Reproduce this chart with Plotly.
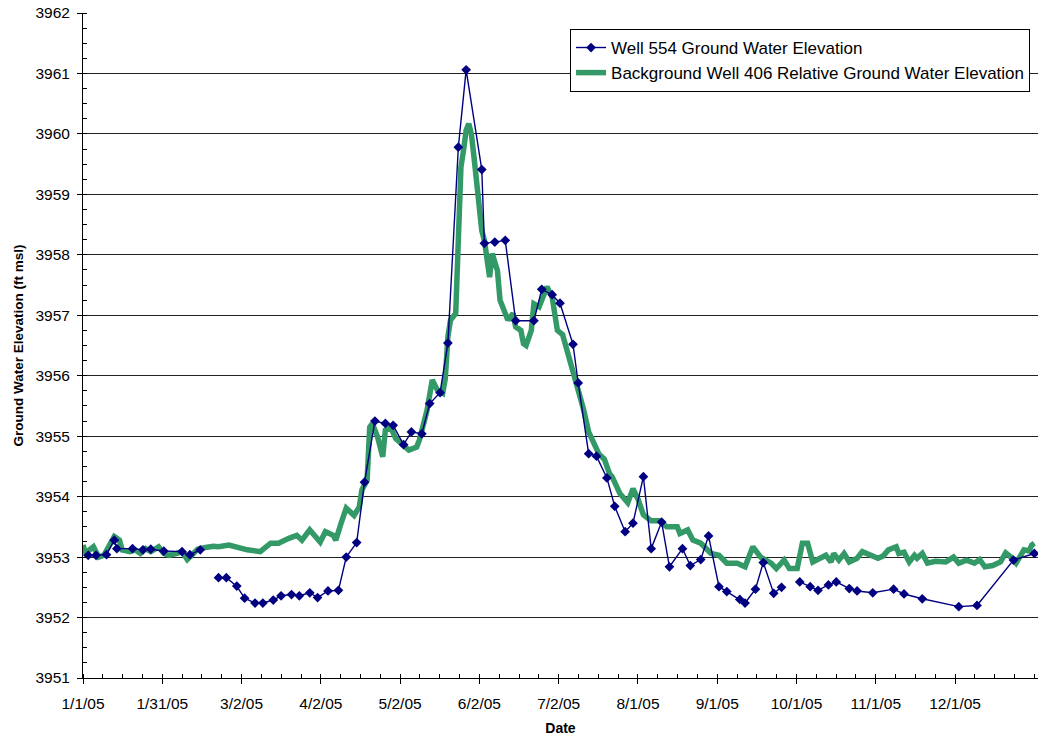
import plotly.graph_objects as go
import pandas as pd

# ---------------- data ----------------
well554_dates = [
    "2005-01-03", "2005-01-06", "2005-01-10", "2005-01-13", "2005-01-14", "2005-01-20",
    "2005-01-24", "2005-01-27", "2005-02-01", "2005-02-08", "2005-02-11", "2005-02-15",
    "2005-02-18",
    "2005-02-22", "2005-02-25", "2005-03-01", "2005-03-04", "2005-03-08", "2005-03-11",
    "2005-03-15", "2005-03-18", "2005-03-22", "2005-03-25", "2005-03-29", "2005-04-01",
    "2005-04-05", "2005-04-09", "2005-04-12", "2005-04-16", "2005-04-19", "2005-04-23",
    "2005-04-27", "2005-04-30", "2005-05-04", "2005-05-07", "2005-05-11", "2005-05-14",
    "2005-05-18", "2005-05-21", "2005-05-25", "2005-05-28", "2005-06-03", "2005-06-04",
    "2005-06-08", "2005-06-12", "2005-06-16", "2005-06-23", "2005-06-26", "2005-06-30",
    "2005-07-03", "2005-07-08", "2005-07-10", "2005-07-14", "2005-07-17", "2005-07-21",
    "2005-07-24", "2005-07-28", "2005-07-31", "2005-08-04", "2005-08-07", "2005-08-11",
    "2005-08-14", "2005-08-19", "2005-08-22", "2005-08-26", "2005-08-29", "2005-09-02",
    "2005-09-05", "2005-09-10", "2005-09-12", "2005-09-16", "2005-09-19", "2005-09-23",
    "2005-09-26",
    "2005-09-30",
    "2005-10-03", "2005-10-07", "2005-10-10", "2005-10-14", "2005-10-17", "2005-10-22",
    "2005-10-25", "2005-10-31", "2005-11-08", "2005-11-12", "2005-11-19", "2005-12-03",
    "2005-12-10", "2005-12-24", "2006-01-01",
]
well554_elev = [
    3953.03, 3953.03, 3953.04, 3953.28, 3953.14, 3953.14,
    3953.12, 3953.13, 3953.10, 3953.09, 3953.04, 3953.12,
    None,
    3952.66, 3952.66, 3952.52, 3952.32, 3952.24, 3952.24,
    3952.29, 3952.36, 3952.38, 3952.36, 3952.41, 3952.33,
    3952.44, 3952.45, 3953.00, 3953.24, 3954.24, 3955.25,
    3955.21, 3955.18, 3954.86, 3955.07, 3955.04, 3955.54,
    3955.72, 3956.54, 3959.78, 3961.06, 3959.41, 3958.19,
    3958.21, 3958.24, 3956.91, 3956.91, 3957.43, 3957.34,
    3957.20, 3956.52, 3955.88, 3954.71, 3954.67, 3954.31,
    3953.84, 3953.42, 3953.56, 3954.33, 3953.14, 3953.58,
    3952.84, 3953.14, 3952.86, 3952.96, 3953.35, 3952.51,
    3952.43, 3952.30, 3952.24, 3952.47, 3952.91, 3952.40,
    3952.50,
    None,
    3952.59, 3952.51, 3952.45, 3952.54, 3952.59, 3952.48,
    3952.44, 3952.41, 3952.47, 3952.39, 3952.31, 3952.18,
    3952.20, 3952.95, 3953.06,
]

bg406_dates = [
    "2005-01-01", "2005-01-02", "2005-01-05", "2005-01-07", "2005-01-09", "2005-01-11",
    "2005-01-13", "2005-01-15", "2005-01-16", "2005-01-19", "2005-01-21", "2005-01-23",
    "2005-01-25", "2005-01-27", "2005-01-30", "2005-02-01", "2005-02-03", "2005-02-06",
    "2005-02-08", "2005-02-10", "2005-02-12", "2005-02-14", "2005-02-17", "2005-02-20",
    "2005-02-22", "2005-02-26", "2005-03-05", "2005-03-10", "2005-03-14", "2005-03-17",
    "2005-03-21", "2005-03-24", "2005-03-26", "2005-03-29", "2005-04-02", "2005-04-04",
    "2005-04-07", "2005-04-08", "2005-04-10", "2005-04-12", "2005-04-15", "2005-04-17",
    "2005-04-18", "2005-04-20", "2005-04-21", "2005-04-22", "2005-04-24", "2005-04-26",
    "2005-04-27", "2005-04-29", "2005-05-01", "2005-05-03", "2005-05-06", "2005-05-09",
    "2005-05-10", "2005-05-12", "2005-05-13", "2005-05-15", "2005-05-17", "2005-05-19",
    "2005-05-20", "2005-05-21", "2005-05-22", "2005-05-24", "2005-05-25", "2005-05-26",
    "2005-05-27", "2005-05-28", "2005-05-29", "2005-05-30", "2005-05-31", "2005-06-01",
    "2005-06-02", "2005-06-03", "2005-06-04", "2005-06-05", "2005-06-06", "2005-06-07",
    "2005-06-09", "2005-06-10", "2005-06-12", "2005-06-13", "2005-06-15", "2005-06-16",
    "2005-06-18", "2005-06-19", "2005-06-20", "2005-06-22", "2005-06-23", "2005-06-25",
    "2005-06-27", "2005-06-28", "2005-06-30", "2005-07-01", "2005-07-02", "2005-07-04",
    "2005-07-05", "2005-07-07", "2005-07-09", "2005-07-12", "2005-07-14", "2005-07-17",
    "2005-07-18", "2005-07-20", "2005-07-22", "2005-07-23", "2005-07-25", "2005-07-26",
    "2005-07-29", "2005-07-31", "2005-08-02", "2005-08-04", "2005-08-07", "2005-08-10",
    "2005-08-13", "2005-08-17", "2005-08-18", "2005-08-21", "2005-08-23", "2005-08-26",
    "2005-08-30", "2005-09-02", "2005-09-05", "2005-09-09", "2005-09-12", "2005-09-15",
    "2005-09-18", "2005-09-22", "2005-09-24", "2005-09-27", "2005-09-29", "2005-10-02",
    "2005-10-04", "2005-10-06", "2005-10-08", "2005-10-11", "2005-10-13", "2005-10-15",
    "2005-10-16", "2005-10-18", "2005-10-20", "2005-10-22", "2005-10-25", "2005-10-27",
    "2005-10-30", "2005-11-02", "2005-11-04", "2005-11-06", "2005-11-09", "2005-11-10",
    "2005-11-12", "2005-11-14", "2005-11-16", "2005-11-17", "2005-11-19", "2005-11-21",
    "2005-11-24", "2005-11-28", "2005-12-01", "2005-12-03", "2005-12-06", "2005-12-09",
    "2005-12-11", "2005-12-13", "2005-12-16", "2005-12-19", "2005-12-21", "2005-12-23",
    "2005-12-25", "2005-12-28", "2005-12-30", "2005-12-31", "2006-01-01",
]
bg406_elev = [
    3953.20, 3953.07, 3953.17, 3953.00, 3953.03, 3953.20,
    3953.34, 3953.28, 3953.12, 3953.09, 3953.12, 3953.06,
    3953.14, 3953.09, 3953.17, 3953.06, 3953.03, 3953.06,
    3953.09, 3952.96, 3953.06, 3953.13, 3953.16, 3953.18,
    3953.17, 3953.20, 3953.12, 3953.09, 3953.23, 3953.23,
    3953.31, 3953.36, 3953.28, 3953.45, 3953.25, 3953.42,
    3953.36, 3953.28, 3953.56, 3953.81, 3953.69, 3953.83,
    3954.11, 3954.27, 3955.15, 3955.21, 3954.99, 3954.66,
    3955.10, 3955.15, 3954.96, 3954.88, 3954.77, 3954.82,
    3954.93, 3955.26, 3955.43, 3955.93, 3955.76, 3955.71,
    3955.95, 3956.65, 3956.92, 3957.03, 3958.29, 3959.45,
    3959.73, 3960.06, 3960.17, 3960.00, 3959.62, 3959.18,
    3958.74, 3958.40, 3958.24, 3957.85, 3957.63, 3958.02,
    3957.74, 3957.25, 3957.03, 3956.92, 3957.03, 3956.81,
    3956.75, 3956.53, 3956.50, 3956.75, 3957.19, 3957.14,
    3957.36, 3957.47, 3957.30, 3956.97, 3956.75, 3956.68,
    3956.53, 3956.15, 3955.87, 3955.45, 3955.07, 3954.82,
    3954.70, 3954.62, 3954.38, 3954.33, 3954.11, 3954.05,
    3953.90, 3954.13, 3953.95, 3953.70, 3953.60, 3953.60,
    3953.50, 3953.50, 3953.39, 3953.45, 3953.28, 3953.23,
    3953.06, 3953.03, 3952.90, 3952.90, 3952.84, 3953.17,
    3953.00, 3952.90, 3952.81, 3952.95, 3952.81, 3952.81,
    3953.23, 3953.23, 3952.92, 3953.00, 3953.03, 3952.92,
    3953.06, 3952.95, 3953.06, 3952.92, 3952.98, 3953.09,
    3953.03, 3952.98, 3953.02, 3953.12, 3953.17, 3953.06,
    3953.08, 3952.92, 3953.03, 3952.98, 3953.06, 3952.90,
    3952.93, 3952.92, 3953.00, 3952.90, 3952.95, 3952.90,
    3952.96, 3952.84, 3952.86, 3952.92, 3953.07, 3953.00,
    3952.90, 3953.12, 3953.10, 3953.20, 3953.23,
]

x_tick_labels = ["1/1/05", "1/31/05", "3/2/05", "4/2/05", "5/2/05", "6/2/05",
                 "7/2/05", "8/1/05", "9/1/05", "10/1/05", "11/1/05", "12/1/05"]

well554_name = "Well 554 Ground Water Elevation"
bg406_name = "Background Well 406 Relative Ground Water Elevation"

# ---------------- axis helpers ----------------
start = pd.Timestamp("2005-01-01")
step = pd.Timedelta(days=365 / 12)
tickvals = [(start + i * step).strftime("%Y-%m-%d %H:%M:%S") for i in range(len(x_tick_labels))]
x_end = (start + pd.Timedelta(days=366.4)).strftime("%Y-%m-%d %H:%M:%S")
minor_dtick_ms = 365 / 48 * 86400000

fig = go.Figure()
fig.add_trace(go.Scatter(
    x=bg406_dates, y=bg406_elev, mode="lines", name=bg406_name,
    line=dict(color="#339966", width=5.5),
))
fig.add_trace(go.Scatter(
    x=well554_dates, y=well554_elev, mode="lines+markers", name=well554_name,
    line=dict(color="#000080", width=1.4),
    marker=dict(symbol="diamond", size=7.5, color="#000080"),
    connectgaps=False,
))

fig.update_layout(
    width=1038, height=738,
    margin=dict(l=83, r=0, t=12.5, b=60),
    paper_bgcolor="white", plot_bgcolor="white",
    font=dict(family="Arial, 'Liberation Sans', sans-serif", color="black"),
    showlegend=True,
    legend=dict(
        x=0.510, y=0.976, xanchor="left", yanchor="top",
        bgcolor="white", bordercolor="black", borderwidth=1,
        font=dict(size=17), traceorder="reversed",
        tracegroupgap=0, itemwidth=30,
    ),
)

fig.update_xaxes(
    type="date", range=[start.strftime("%Y-%m-%d"), x_end],
    tickmode="array", tickvals=tickvals, ticktext=x_tick_labels,
    showgrid=False, zeroline=False,
    showline=True, linecolor="black", linewidth=1,
    ticks="outside", ticklen=5, tickcolor="black", tickwidth=1,
    tickfont=dict(size=15.5), ticklabelstandoff=6,
    minor=dict(ticks="inside", ticklen=4, tickcolor="black",
               tick0=start.strftime("%Y-%m-%d"), dtick=minor_dtick_ms, showgrid=False),
    title=dict(text="<b>Date</b>", font=dict(size=14), standoff=12),
    automargin=False,
)
fig.update_yaxes(
    range=[3951, 3962], tick0=3951, dtick=1,
    showgrid=True, gridcolor="#222222", gridwidth=1, zeroline=False,
    showline=True, linecolor="black", linewidth=1,
    ticks="outside", ticklen=5, tickcolor="black", tickwidth=1,
    tickfont=dict(size=15.5), ticklabelstandoff=4,
    minor=dict(ticks="inside", ticklen=4, tickcolor="black", dtick=0.25, showgrid=False),
    title=dict(text="<b>Ground Water Elevation (ft msl)</b>", font=dict(size=13.5), standoff=8),
    automargin=False,
)

# remove the default 8px page margin so the figure fills the window exactly
fig.write_html("out.html", config={"displayModeBar": False},
               post_script="document.body.style.margin='0px';")
